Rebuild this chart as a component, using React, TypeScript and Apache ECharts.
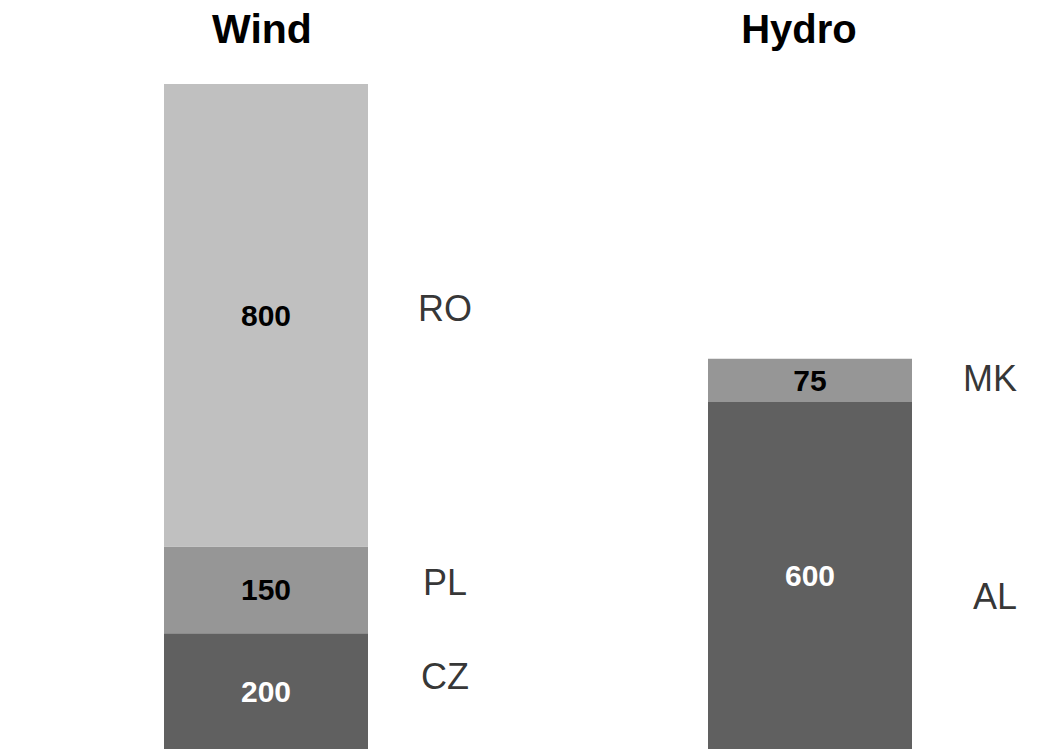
import React, { useEffect, useRef } from "react";
import * as echarts from "echarts";

const categories = ["Wind", "Hydro"];
const windNames = ["CZ", "PL", "RO"];
const windValues = [200, 150, 800];
const hydroNames = ["AL", "MK"];
const hydroValues = [600, 75];

const colors: Record<string, string> = {
  CZ: "#606060",
  PL: "#969696",
  RO: "#c0c0c0",
  AL: "#606060",
  MK: "#969696",
};
const valueColors: Record<string, string> = {
  CZ: "#ffffff",
  PL: "#000000",
  RO: "#000000",
  AL: "#ffffff",
  MK: "#000000",
};
const nameOffsets: Record<string, number[]> = {
  CZ: [179, -15],
  PL: [179, -7],
  RO: [179, -7],
  AL: [185, 21],
  MK: [180, -2],
};

const FONT = "'Liberation Sans', Arial, Helvetica, sans-serif";

export default function App() {
  const ref = useRef<HTMLDivElement>(null);
  useEffect(() => {
    document.body.style.margin = "0";
    if (!ref.current) return;
    const chart = echarts.init(ref.current, undefined, { renderer: "svg" });

    const groups = [
      { cat: 0, names: windNames, values: windValues },
      { cat: 1, names: hydroNames, values: hydroValues },
    ];
    const series: any[] = [];
    groups.forEach((g) => {
      let cum = 0;
      g.names.forEach((name, i) => {
        const v = g.values[i];
        const data = categories.map((_, ci) => (ci === g.cat ? v : "-"));
        series.push({
          type: "bar",
          name,
          stack: "total",
          barWidth: 204,
          data,
          itemStyle: { color: colors[name] },
          label: {
            show: true,
            position: "inside",
            color: valueColors[name],
            fontFamily: FONT,
            fontWeight: "bold",
            fontSize: 30,
          },
        });
        const mid = cum + v / 2;
        cum += v;
        series.push({
          type: "scatter",
          name: name + "-label",
          symbolSize: 1,
          itemStyle: { color: "transparent" },
          data: [[categories[g.cat], mid]],
          silent: true,
          label: {
            show: true,
            position: "inside",
            offset: nameOffsets[name],
            formatter: name,
            color: "#000000",
            fontFamily: FONT,
            fontSize: 36,
          },
        });
      });
    });

    chart.setOption({
      animation: false,
      backgroundColor: "#ffffff",
      grid: { left: 266, right: 241, top: 84, bottom: -2 },
      xAxis: {
        type: "category",
        data: categories,
        boundaryGap: false,
        show: false,
      },
      yAxis: { type: "value", min: 0, max: 1150, show: false },
      graphic: [
        {
          type: "text",
          x: 262,
          y: 29,
          style: {
            text: "Wind",
            align: "center",
            verticalAlign: "middle",
            font: `bold 41px ${FONT}`,
            fill: "#000000",
          },
        },
        {
          type: "text",
          x: 799,
          y: 29,
          style: {
            text: "Hydro",
            align: "center",
            verticalAlign: "middle",
            font: `bold 40px ${FONT}`,
            fill: "#000000",
          },
        },
      ],
      series,
    });
    return () => chart.dispose();
  }, []);
  return <div ref={ref} style={{ width: 1051, height: 749 }} />;
}
